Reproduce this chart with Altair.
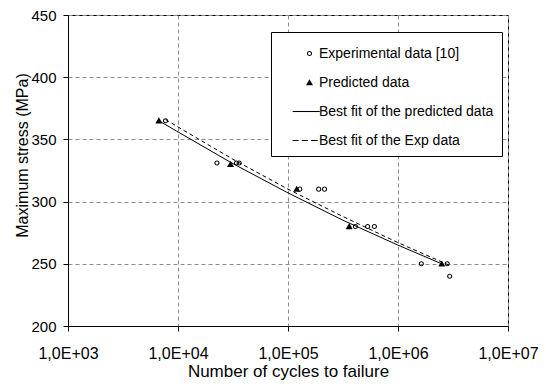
import altair as alt
import pandas as pd

FONT = "Liberation Sans"

# ---- data ----
exp_cycles = [7.7e3, 2.26e4, 3.4e4, 3.6e4, 1.28e5, 1.9e5, 2.15e5, 4.1e5, 5.3e5, 6.1e5, 1.63e6, 2.8e6, 2.95e6]
exp_stress = [365, 331, 331, 331, 310, 310, 310, 280, 280, 280, 250, 250, 240]

pred_cycles = [6.7e3, 3.0e4, 1.2e5, 3.6e5, 2.5e6]
pred_stress = [365, 330, 310, 280, 250]

fit_pred_cycles = [6.7e3, 1.0e4, 3.16e4, 1.0e5, 3.16e5, 1.0e6, 2.5e6]
fit_pred_stress = [365, 356, 330.5, 307, 285, 265, 250]

fit_exp_cycles = [7.7e3, 1.0e4, 3.16e4, 1.0e5, 3.16e5, 1.0e6, 2.9e6]
fit_exp_stress = [366, 360, 334, 310, 288, 267, 249]

series_names = [
    "Experimental data [10]",
    "Predicted data",
    "Best fit of the predicted data",
    "Best fit of the Exp data",
]
x_ticks = [1e3, 1e4, 1e5, 1e6, 1e7]
y_ticks = [200, 250, 300, 350, 400, 450]

# ---- tables ----
pts = pd.DataFrame({
    "cycles": exp_cycles + pred_cycles,
    "stress": exp_stress + pred_stress,
    "series": [series_names[0]] * len(exp_cycles) + [series_names[1]] * len(pred_cycles),
})
fit_pred = pd.DataFrame({"cycles": fit_pred_cycles, "stress": fit_pred_stress})
fit_exp = pd.DataFrame({"cycles": fit_exp_cycles, "stress": fit_exp_stress})

# symbol glyphs, all drawn as filled paths (unit box scaled by sqrt(size)/2)
ring = (
    "M0.19,0A0.19,0.19,0,1,1,-0.19,0A0.19,0.19,0,1,1,0.19,0Z"
    "M0.115,0A0.115,0.115,0,1,0,-0.115,0A0.115,0.115,0,1,0,0.115,0Z"
)
tri = "M0,-0.25L0.26,0.2L-0.26,0.2Z"
solid_seg = "M-1.25,-0.04H0.76V0.04H-1.25Z"
dash_seg = (
    "M-1.26,-0.04H-0.81V0.04H-1.26Z"
    "M-0.57,-0.04H-0.13V0.04H-0.57Z"
    "M0.12,-0.04H0.61V0.04H0.12Z"
)
shape_range = [ring, tri, solid_seg, dash_seg]

x_enc = alt.X(
    "cycles:Q",
    scale=alt.Scale(type="log", domain=[1e3, 1e7]),
    axis=alt.Axis(
        values=x_ticks,
        labelExpr="'1,0E+0' + round(log(datum.value) / LN10)",
        title="Number of cycles to failure",
        labelFontSize=16,
        titleFontSize=17,
        labelPadding=14,
        titlePadding=2,
        labelFlush=False,
    ),
)
y_enc = alt.Y(
    "stress:Q",
    scale=alt.Scale(domain=[200, 450], nice=False),
    axis=alt.Axis(
        values=y_ticks,
        title="Maximum stress (MPa)",
        labelFontSize=15,
        titleFontSize=16,
        labelPadding=7,
        titlePadding=0,
        titleY=140,
    ),
)

legend = alt.Legend(
    title=None,
    orient="none",
    legendX=203,
    legendY=17,
    direction="vertical",
    padding=8,
    fillColor="white",
    strokeColor="black",
    symbolSize=729,
    symbolOffset=17,
    labelOffset={"expr": "-4"},
    rowPadding=8,
    labelFont=FONT,
    labelFontSize=14,
    labelColor="black",
    labelLimit=0,
    symbolFillColor="black",
    symbolStrokeWidth=0,
    symbolOpacity=1,
)

line_pred = alt.Chart(fit_pred).mark_line(color="black", strokeWidth=1).encode(x=x_enc, y=y_enc)
line_exp = alt.Chart(fit_exp).mark_line(color="black", strokeWidth=1, strokeDash=[4, 3]).encode(x=x_enc, y=y_enc)

points = alt.Chart(pts).mark_point(
    filled=True, color="black", strokeWidth=0, opacity=1, size=729
).encode(
    x=x_enc,
    y=y_enc,
    shape=alt.Shape("series:N", scale=alt.Scale(domain=series_names, range=shape_range), legend=legend),
)

chart = (
    alt.layer(line_pred, line_exp, points)
    .properties(
        width=440,
        height=311,
        autosize=alt.AutoSizeParams(type="none"),
        padding={"left": 60, "top": 7, "right": 30, "bottom": 55},
        background="white",
    )
    .configure_view(stroke="black", strokeWidth=1)
    .configure_axis(
        labelFont=FONT,
        titleFont=FONT,
        labelColor="black",
        titleColor="black",
        titleFontWeight="normal",
        domainColor="black",
        tickColor="black",
        tickSize=5,
        gridColor="#8c8c8c",
        gridDash=[4, 3],
        gridWidth=1,
    )
    .configure_legend(strokeWidth=1, cornerRadius=0)
)

chart.save("out.html", embed_options={"renderer": "svg", "actions": False})
